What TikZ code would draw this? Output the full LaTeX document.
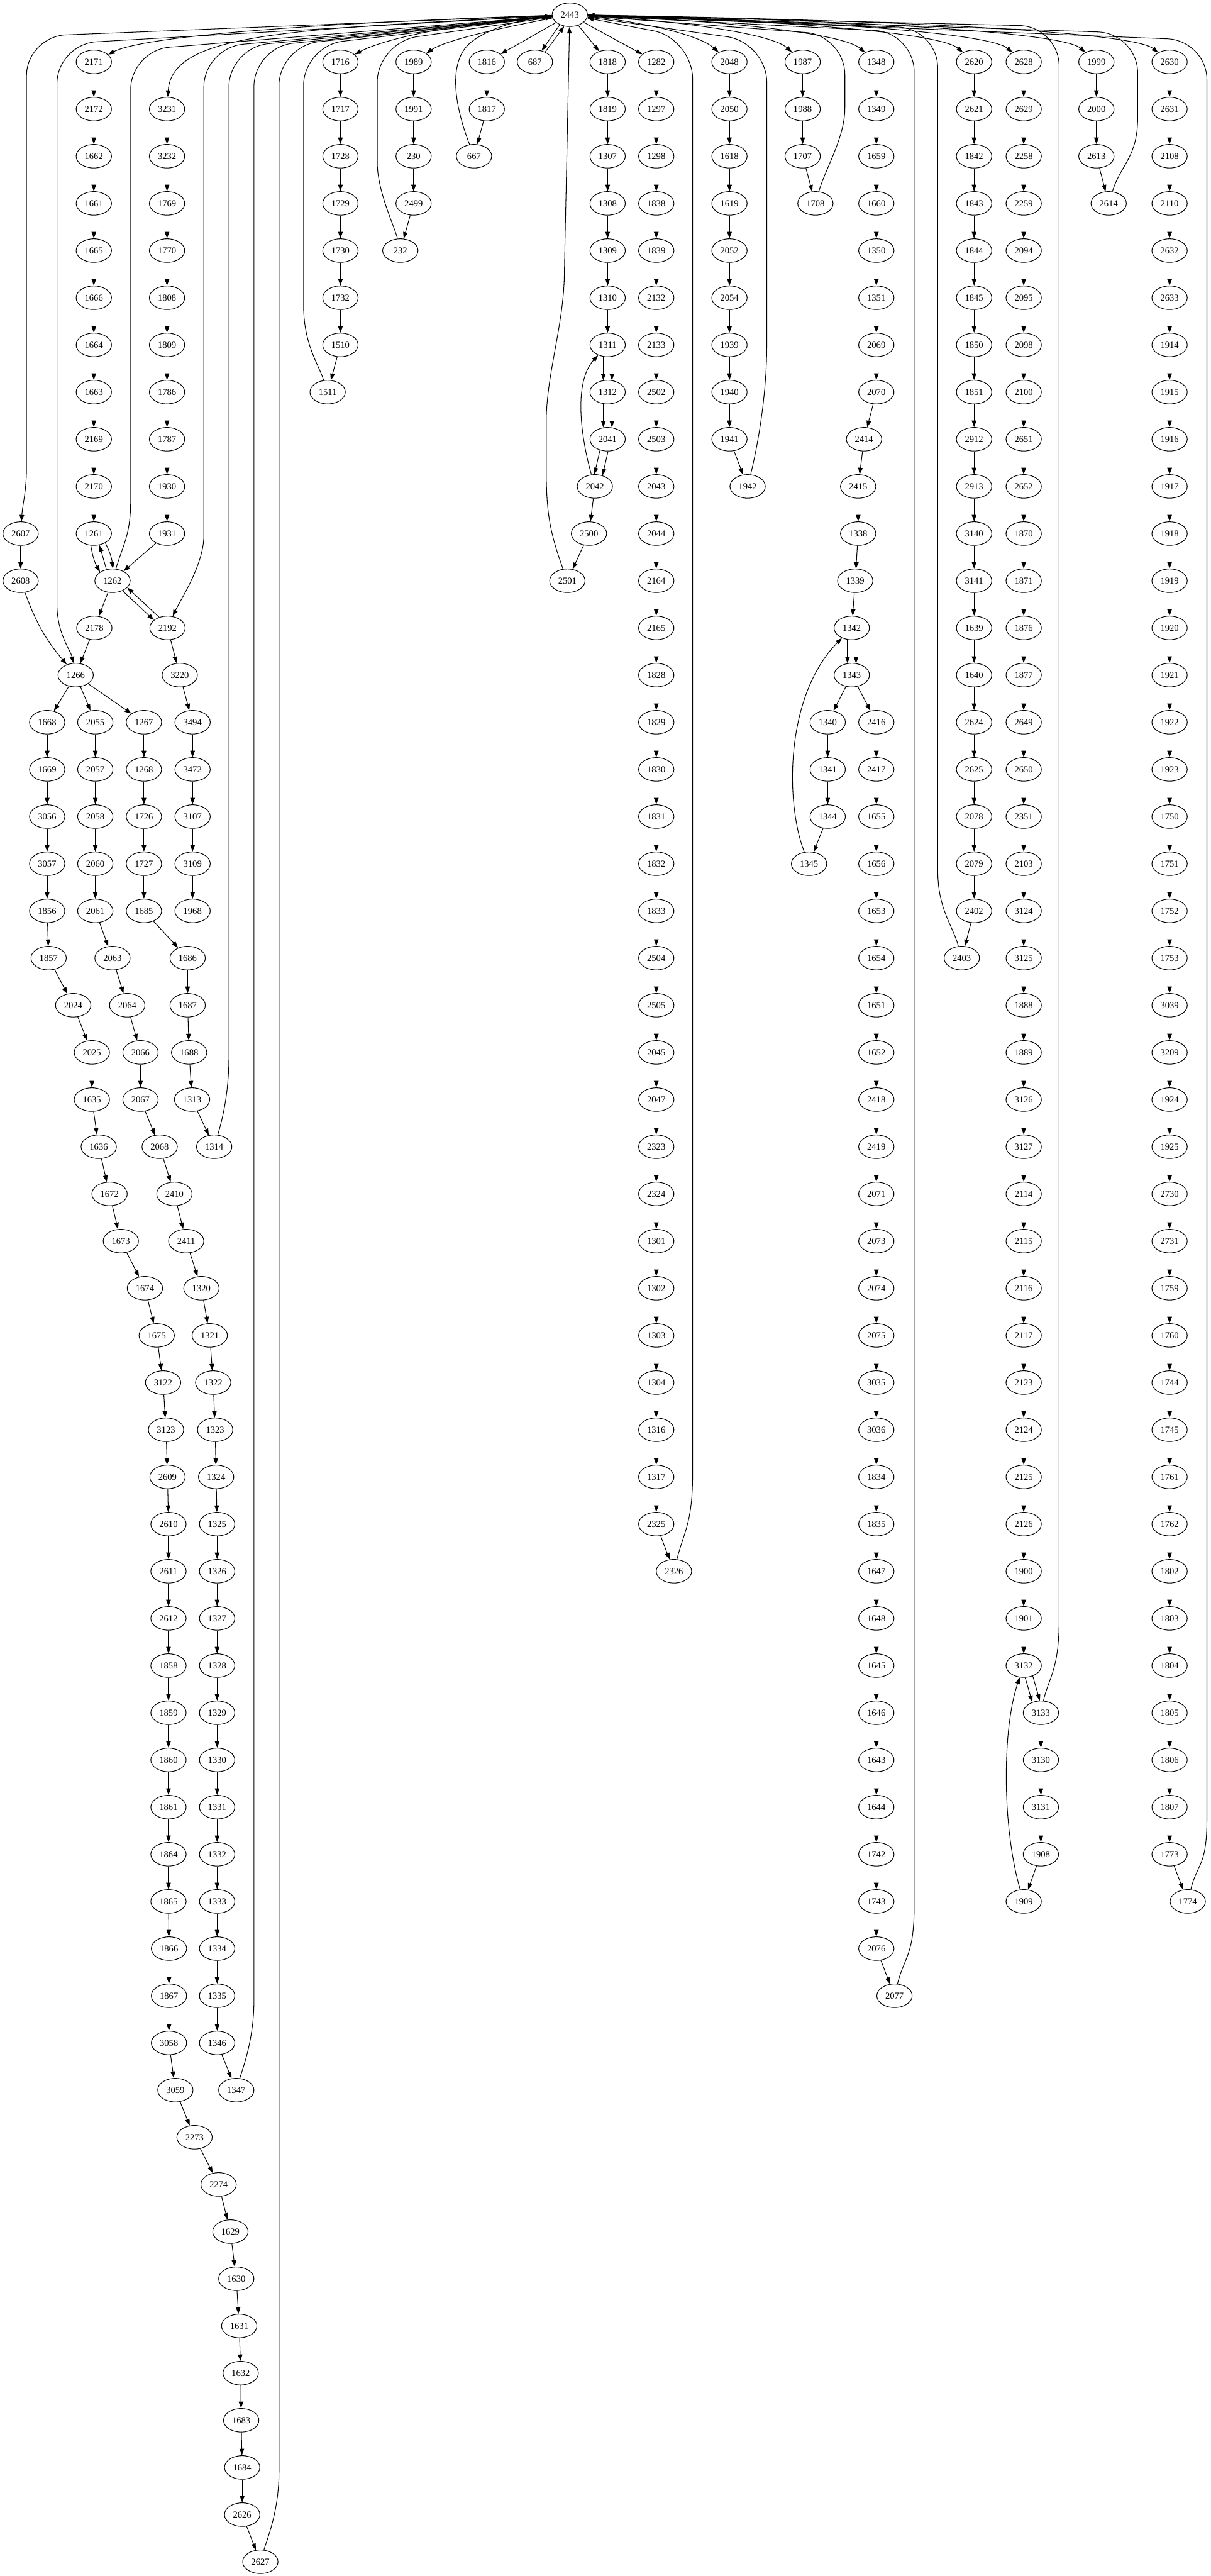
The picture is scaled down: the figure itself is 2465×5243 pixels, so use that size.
\documentclass[tikz,border=0pt]{standalone}
\usepackage{fontspec}
\setmainfont{Liberation Serif}
\usetikzlibrary{arrows.meta,shapes.geometric}

\tikzset{
  vtx/.style={draw, ellipse, line width=1pt, minimum width=54pt, minimum height=36pt, inner sep=0pt, font=\fontsize{14pt}{16pt}\selectfont},
  link/.style={line width=1pt, -{Triangle[length=10pt,width=7pt]}},
}

\begin{document}
\begin{tikzpicture}[x=0.75pt, y=0.75pt]
\useasboundingbox (0,0) rectangle (2465,-5243);

\node[vtx] (n2443) at (1160,-30) {2443};
\foreach \lab/\xx in {2171/191, 1716/693, 1989/842, 1816/991, 687/1089, 1818/1237, 1282/1336, 2048/1485, 1987/1634, 1348/1784, 2620/1983, 2628/2084, 1999/2232, 2630/2381}
  \node[vtx] (n\lab) at (\xx,-126) {\lab};

% left block
\foreach \lab/\xx [count=\rk from 2, remember=\lab as \prv (initially 2171)] in {2172/191, 1662/191, 1661/191, 1665/191, 1666/191, 1664/191, 1663/191, 2169/191, 2170/191, 1261/191}
  {\node[vtx] (n\lab) at (\xx,-30-96*\rk) {\lab}; \draw[link] (n\prv) -- (n\lab);}
\node[vtx] (n3231) at (340,-222) {3231};
\foreach \lab/\xx [count=\rk from 3, remember=\lab as \prv (initially 3231)] in {3232/340, 1769/340, 1770/340, 1808/340, 1809/340, 1786/340, 1787/340, 1930/340, 1931/340}
  {\node[vtx] (n\lab) at (\xx,-30-96*\rk) {\lab}; \draw[link] (n\prv) -- (n\lab);}

\node[vtx] (n2607) at (42,-1086) {2607};
\node[vtx] (n2608) at (42,-1182) {2608};
\node[vtx] (n1262) at (229,-1182) {1262};
\node[vtx] (n2178) at (192,-1278) {2178};
\node[vtx] (n2192) at (341,-1278) {2192};
\node[vtx] (n1266) at (154,-1374) {1266};
\node[vtx] (n3220) at (366,-1374) {3220};
\draw[link] (n2607) -- (n2608);
\draw[link] (n2608) to[bend right=10] (n1266);
\draw[link] (n1931) -- (n1262);
\draw[link] (n1262) -- (n2178);
\draw[link] (n2178) -- (n1266);
\draw[link] (n2192) -- (n3220);
\draw[link] (n1261.256) to[bend right=10] (n1262.145);
\draw[link] (n1262.118) -- (n1261.296);
\draw[link] (n1261.321) to[bend left=10] (n1262.88);
\draw[link] (n1262.315) -- (n2192.150);
\draw[link] (n2192.128) -- (n1262.335);

\foreach \lab/\xx [count=\rk from 15, remember=\lab as \prv (initially 3220)] in {3494/392, 3472/392, 3107/392, 3109/392, 1968/392}
  {\node[vtx] (n\lab) at (\xx,-30-96*\rk) {\lab}; \draw[link] (n\prv) -- (n\lab);}
\foreach \lab/\xx [count=\rk from 15, remember=\lab as \prv (initially 1266)] in {1668/96, 1669/96, 3056/96, 3057/96, 1856/96, 1857/99, 2024/149, 2025/187, 1635/187, 1636/201, 1672/223, 1673/246, 1674/295, 1675/319, 3122/332, 3123/338, 2609/341, 2610/343, 2611/343, 2612/343, 1858/343, 1859/343, 1860/343, 1861/343, 1864/343, 1865/343, 1866/344, 1867/344, 3058/344, 3059/357, 2273/396, 2274/445, 1629/469, 1630/481, 1631/487, 1632/490, 1683/491, 1684/493, 2626/493, 2627/530}
  {\node[vtx] (n\lab) at (\xx,-30-96*\rk) {\lab}; \draw[link] (n\prv) -- (n\lab);}
\foreach \lab/\xx [count=\rk from 15, remember=\lab as \prv (initially 1266)] in {2055/194, 2057/194, 2058/194, 2060/194, 2061/194, 2063/229, 2064/259, 2066/286, 2067/286, 2068/325, 2410/355, 2411/379, 1320/410, 1321/427, 1322/434, 1323/438, 1324/440, 1325/442, 1326/442, 1327/442, 1328/442, 1329/442, 1330/442, 1331/442, 1332/442, 1333/442, 1334/442, 1335/442, 1346/442, 1347/481}
  {\node[vtx] (n\lab) at (\xx,-30-96*\rk) {\lab}; \draw[link] (n\prv) -- (n\lab);}
\foreach \lab/\xx [count=\rk from 15, remember=\lab as \prv (initially 1266)] in {1267/293, 1268/293, 1726/293, 1727/293, 1685/293, 1686/382, 1687/382, 1688/385, 1313/391, 1314/436}
  {\node[vtx] (n\lab) at (\xx,-30-96*\rk) {\lab}; \draw[link] (n\prv) -- (n\lab);}

% middle block
\foreach \lab/\xx [count=\rk from 2, remember=\lab as \prv (initially 1716)] in {1717/693, 1728/693, 1729/693, 1730/693, 1732/693, 1510/693, 1511/667}
  {\node[vtx] (n\lab) at (\xx,-30-96*\rk) {\lab}; \draw[link] (n\prv) -- (n\lab);}
\foreach \lab/\xx [count=\rk from 2, remember=\lab as \prv (initially 1989)] in {1991/842, 230/842, 2499/842, 232/815}
  {\node[vtx] (n\lab) at (\xx,-30-96*\rk) {\lab}; \draw[link] (n\prv) -- (n\lab);}
\foreach \lab/\xx [count=\rk from 2, remember=\lab as \prv (initially 1816)] in {1817/991, 667/965}
  {\node[vtx] (n\lab) at (\xx,-30-96*\rk) {\lab}; \draw[link] (n\prv) -- (n\lab);}
\foreach \lab/\xx [count=\rk from 2, remember=\lab as \prv (initially 1818)] in {1819/1237, 1307/1237, 1308/1237, 1309/1237, 1310/1237, 1311/1237}
  {\node[vtx] (n\lab) at (\xx,-30-96*\rk) {\lab}; \draw[link] (n\prv) -- (n\lab);}
\node[vtx] (n1312) at (1237,-798) {1312};
\node[vtx] (n2041) at (1237,-894) {2041};
\node[vtx] (n2042) at (1211,-990) {2042};
\node[vtx] (n2500) at (1199,-1086) {2500};
\node[vtx] (n2501) at (1155,-1182) {2501};
\draw[link] (n1311.250) -- (n1312.110);
\draw[link] (n1311.290) -- (n1312.70);
\draw[link] (n1312.250) -- (n2041.110);
\draw[link] (n1312.290) -- (n2041.70);
\draw[link] (n2041.235) -- (n2042.92);
\draw[link] (n2041.272) -- (n2042.55);
\draw[link] (n2042) -- (n2500);
\draw[link] (n2500) -- (n2501);
\draw[link] (n2042) .. controls (1185,-900) and (1165,-780) .. (n1311);

\foreach \lab/\xx [count=\rk from 2, remember=\lab as \prv (initially 1282)] in {1297/1336, 1298/1336, 1838/1336, 1839/1336, 2132/1336, 2133/1336, 2502/1336, 2503/1336, 2043/1336, 2044/1336, 2164/1336, 2165/1336, 1828/1336, 1829/1336, 1830/1336, 1831/1336, 1832/1336, 1833/1336, 2504/1336, 2505/1336, 2045/1336, 2047/1336, 2323/1336, 2324/1336, 1301/1336, 1302/1336, 1303/1336, 1304/1336, 1316/1336, 1317/1336, 2325/1336, 2326/1372}
  {\node[vtx] (n\lab) at (\xx,-30-96*\rk) {\lab}; \draw[link] (n\prv) -- (n\lab);}
\foreach \lab/\xx [count=\rk from 2, remember=\lab as \prv (initially 2048)] in {2050/1485, 1618/1485, 1619/1485, 2052/1485, 2054/1485, 1939/1485, 1940/1485, 1941/1485, 1942/1522}
  {\node[vtx] (n\lab) at (\xx,-30-96*\rk) {\lab}; \draw[link] (n\prv) -- (n\lab);}
\foreach \lab/\xx [count=\rk from 2, remember=\lab as \prv (initially 1987)] in {1988/1634, 1707/1634, 1708/1660}
  {\node[vtx] (n\lab) at (\xx,-30-96*\rk) {\lab}; \draw[link] (n\prv) -- (n\lab);}

% right block
\foreach \lab/\xx [count=\rk from 2, remember=\lab as \prv (initially 1348)] in {1349/1784, 1659/1784, 1660/1784, 1350/1784, 1351/1784, 2069/1784, 2070/1784, 2414/1759, 2415/1747, 1338/1747, 1339/1741, 1342/1734}
  {\node[vtx] (n\lab) at (\xx,-30-96*\rk) {\lab}; \draw[link] (n\prv) -- (n\lab);}
\node[vtx] (n1343) at (1734,-1374) {1343};
\draw[link] (n1342.250) -- (n1343.110);
\draw[link] (n1342.290) -- (n1343.70);
\foreach \lab/\xx [count=\rk from 15, remember=\lab as \prv (initially 1343)] in {1340/1685, 1341/1685, 1344/1685, 1345/1647}
  {\node[vtx] (n\lab) at (\xx,-30-96*\rk) {\lab}; \draw[link] (n\prv) -- (n\lab);}
\foreach \lab/\xx [count=\rk from 15, remember=\lab as \prv (initially 1343)] in {2416/1784, 2417/1784, 1655/1784, 1656/1784, 1653/1784, 1654/1784, 1651/1784, 1652/1784, 2418/1784, 2419/1784, 2071/1784, 2073/1784, 2074/1784, 2075/1784, 3035/1784, 3036/1784, 1834/1784, 1835/1784, 1647/1784, 1648/1784, 1645/1784, 1646/1784, 1643/1784, 1644/1784, 1742/1784, 1743/1784, 2076/1784, 2077/1821}
  {\node[vtx] (n\lab) at (\xx,-30-96*\rk) {\lab}; \draw[link] (n\prv) -- (n\lab);}
\draw[link] (n1345) .. controls (1600,-1640) and (1595,-1420) .. (n1342);

\foreach \lab/\xx [count=\rk from 2, remember=\lab as \prv (initially 2620)] in {2621/1983, 1842/1983, 1843/1983, 1844/1983, 1845/1983, 1850/1983, 1851/1983, 2912/1983, 2913/1983, 3140/1983, 3141/1983, 1639/1983, 1640/1983, 2624/1983, 2625/1983, 2078/1983, 2079/1983, 2402/1983, 2403/1958}
  {\node[vtx] (n\lab) at (\xx,-30-96*\rk) {\lab}; \draw[link] (n\prv) -- (n\lab);}
\foreach \lab/\xx [count=\rk from 2, remember=\lab as \prv (initially 2628)] in {2629/2084, 2258/2084, 2259/2084, 2094/2084, 2095/2084, 2098/2084, 2100/2084, 2651/2084, 2652/2084, 1870/2084, 1871/2084, 1876/2084, 1877/2084, 2649/2084, 2650/2084, 2351/2084, 2103/2084, 3124/2084, 3125/2084, 1888/2084, 1889/2084, 3126/2084, 3127/2084, 2114/2084, 2115/2084, 2116/2084, 2117/2084, 2123/2084, 2124/2084, 2125/2084, 2126/2084, 1900/2084, 1901/2084, 3132/2084}
  {\node[vtx] (n\lab) at (\xx,-30-96*\rk) {\lab}; \draw[link] (n\prv) -- (n\lab);}
\node[vtx] (n3133) at (2119,-3486) {3133};
\draw[link] (n3132.277) -- (n3133.129);
\draw[link] (n3132.311) -- (n3133.95);
\foreach \lab/\xx [count=\rk from 37, remember=\lab as \prv (initially 3133)] in {3130/2119, 3131/2119, 1908/2119, 1909/2084}
  {\node[vtx] (n\lab) at (\xx,-30-96*\rk) {\lab}; \draw[link] (n\prv) -- (n\lab);}
\draw[link] (n1909) .. controls (2040,-3720) and (2040,-3520) .. (n3132);

\foreach \lab/\xx [count=\rk from 2, remember=\lab as \prv (initially 1999)] in {2000/2232, 2613/2232, 2614/2257}
  {\node[vtx] (n\lab) at (\xx,-30-96*\rk) {\lab}; \draw[link] (n\prv) -- (n\lab);}
\foreach \lab/\xx [count=\rk from 2, remember=\lab as \prv (initially 2630)] in {2631/2381, 2108/2381, 2110/2381, 2632/2381, 2633/2381, 1914/2381, 1915/2381, 1916/2381, 1917/2381, 1918/2381, 1919/2381, 1920/2381, 1921/2381, 1922/2381, 1923/2381, 1750/2381, 1751/2381, 1752/2381, 1753/2381, 3039/2381, 3209/2381, 1924/2381, 1925/2381, 2730/2381, 2731/2381, 1759/2381, 1760/2381, 1744/2381, 1745/2381, 1761/2381, 1762/2381, 1802/2381, 1803/2381, 1804/2381, 1805/2381, 1806/2381, 1807/2381, 1773/2381, 1774/2418}
  {\node[vtx] (n\lab) at (\xx,-30-96*\rk) {\lab}; \draw[link] (n\prv) -- (n\lab);}

% root to the first row
\draw[link] (n2443) .. controls (700,-45) and (300,-70) .. (n2171);
\draw[link] (n2443) .. controls (600,-60) and (350,-65) .. (n3231);
\draw[link] (n2443) .. controls (950,-45) and (790,-75) .. (n1716);
\draw[link] (n2443) .. controls (1030,-55) and (910,-80) .. (n1989);
\draw[link] (n2443) -- (n1816);
\draw[link] (n2443.225) -- (n687.59);
\draw[link] (n687.44) -- (n2443.244);
\draw[link] (n2443) -- (n1818);
\draw[link] (n2443) -- (n1282);
\foreach \lab/\ca/\cb in {2048/1290/1420, 1987/1380/1570, 1348/1480/1715, 2620/1620/1915, 2628/1680/2015, 1999/1800/2165, 2630/1900/2310}
  \draw[link] (n2443) .. controls (\ca,-42) and (\cb,-68) .. (n\lab);

% long lines to and from the root
\draw[link] (n2443) -- (134,-71) .. controls (90,-73) and (54,-110) .. (54,-154) -- (54,-950) .. controls +(0,-50) and +(4,60) .. (n2607);
\draw[link] (n2443) -- (196,-85) .. controls (152,-88) and (116,-126) .. (116,-170) -- (116,-1230) .. controls +(0,-60) and +(-10,50) .. (n1266);
\draw[link] (n1262) .. controls +(20,70) and +(0,-70) .. (266,-1020) -- (266,-182) .. controls (266,-138) and (302,-99) .. (346,-96) -- (n2443);
\draw[link] (n2443) -- (495,-90) .. controls (451,-94) and (415,-133) .. (415,-177) -- (415,-1090) .. controls +(0,-60) and +(25,55) .. (n2192);
\draw[link] (n1314) .. controls +(15,50) and +(0,-80) .. (466,-2150) -- (466,-177) .. controls (466,-133) and (502,-93) .. (546,-89) -- (n2443);
\draw[link] (n1347) .. controls +(15,50) and +(0,-80) .. (517,-4070) -- (517,-176) .. controls (517,-132) and (553,-92) .. (597,-88) -- (n2443);
\draw[link] (n2627) .. controls +(15,50) and +(0,-80) .. (568,-5030) -- (568,-174) .. controls (568,-130) and (604,-90) .. (648,-85) -- (n2443);
\draw[link] (n1511) .. controls +(-20,60) and +(0,-80) .. (618,-620) -- (618,-174) .. controls (618,-130) and (653,-90) .. (697,-84) -- (n2443);
\draw[link] (n232) .. controls +(-12,50) and +(0,-60) .. (768,-330) -- (768,-167) .. controls (768,-123) and (804,-82) .. (847,-75) -- (n2443);
\draw[link] (n2326) .. controls +(20,80) and +(0,-100) .. (1410,-3000) -- (1410,-160) .. controls (1410,-116) and (1375,-72) .. (1332,-63) -- (n2443);
\draw[link] (n1942) .. controls +(15,60) and +(0,-120) .. (1561,-700) -- (1561,-167) .. controls (1561,-123) and (1525,-82) .. (1482,-75) -- (n2443);
\draw[link] (n1708) .. controls +(20,70) and +(0,-60) .. (1720,-220) -- (1720,-152) .. controls (1720,-108) and (1684,-69) .. (1640,-66) -- (n2443);
\draw[link] (n2077) .. controls +(20,80) and +(0,-100) .. (1861,-3880) -- (1861,-146) .. controls (1861,-102) and (1825,-64) .. (1781,-62) -- (n2443);
\draw[link] (n2403) .. controls +(-20,70) and +(0,-80) .. (1909,-1770) -- (1909,-138) .. controls (1909,-94) and (1873,-57) .. (1829,-55) -- (n2443);
\draw[link] (n3133) .. controls +(15,70) and +(0,-100) .. (2156,-3300) -- (2156,-134) .. controls (2156,-90) and (2120,-53) .. (2076,-52) -- (n2443);
\draw[link] (n2614) .. controls +(25,80) and +(0,-80) .. (2316,-240) -- (2316,-148) .. controls (2316,-104) and (2280,-67) .. (2236,-65) -- (n2443);
\draw[link] (n1774) .. controls +(20,80) and +(0,-100) .. (2457,-3700) -- (2457,-162) .. controls (2457,-118) and (2421,-81) .. (2377,-79) -- (n2443);
\draw[link] (n2501) .. controls (1118,-1080) and (1112,-1040) .. (1112,-950) -- (1112,-860) .. controls (1112,-760) and (1149,-660) .. (1149,-550) -- (n2443);
\draw[link] (n667) .. controls (920,-200) and (915,-120) .. (960,-85) .. controls (1000,-55) and (1060,-40) .. (n2443);
\end{tikzpicture}
\end{document}
